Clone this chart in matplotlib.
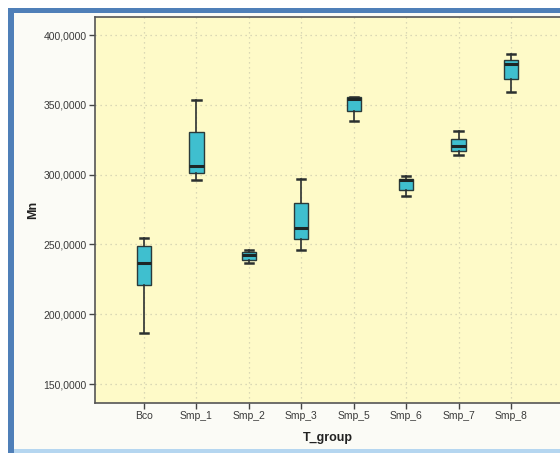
import matplotlib
matplotlib.use("Agg")
import matplotlib.pyplot as plt
from matplotlib.patches import Rectangle
from matplotlib.ticker import FuncFormatter

plt.rcParams["font.family"] = ["Liberation Sans", "DejaVu Sans"]

# Mn by treatment group: five-number summaries
groups = ["Bco", "Smp_1", "Smp_2", "Smp_3", "Smp_5", "Smp_6", "Smp_7", "Smp_8"]
whislo = [186400, 296400, 236400, 245900, 338100, 284500, 314300, 359500]
q1 = [220900, 301200, 238800, 253600, 345700, 289300, 317100, 368600]
med = [236400, 306400, 242400, 261600, 354300, 296000, 320700, 379500]
q3 = [248800, 330200, 244800, 279800, 355500, 297000, 325700, 382100]
whishi = [254800, 353100, 245900, 296900, 355500, 298800, 330900, 386200]
yticks = [150000, 200000, 250000, 300000, 350000, 400000]

W, H = 560, 455
fig = plt.figure(figsize=(W / 100, H / 100), dpi=100)
fig.patch.set_facecolor("white")

# window frame around the chart, drawn in a full-figure background axes (pixel coords)
bg = fig.add_axes([0, 0, 1, 1], zorder=-10)
bg.set_xlim(0, W)
bg.set_ylim(H, 0)
bg.axis("off")

def px_rect(x0, y0, x1, y1, color):
    bg.add_patch(Rectangle((x0, y0), x1 - x0, y1 - y0, facecolor=color, edgecolor="none"))

px_rect(8, 8, W, 453, "#fbfbf6")
px_rect(8, 8, W, 13, "#4f7fb8")
px_rect(8, 8, 14, 453, "#4f7fb8")
px_rect(14, 449, W, 453, "#b5d6f0")

ax = fig.add_axes([95 / W, 1 - 403 / H, (W - 95) / W, (403 - 17) / H], zorder=1)
ax.set_facecolor("#fefac8")

stats = []
for i, g in enumerate(groups):
    stats.append(dict(label=g, whislo=whislo[i], q1=q1[i], med=med[i],
                      q3=q3[i], whishi=whishi[i], fliers=[]))

pos = list(range(len(groups)))
ax.bxp(stats, positions=pos, widths=0.27, patch_artist=True, showfliers=False,
       boxprops=dict(facecolor="#3fbfcf", edgecolor="#2b3a3a", linewidth=1.0),
       medianprops=dict(color="#1e2626", linewidth=2.2),
       whiskerprops=dict(color="#2b3030", linewidth=1.2),
       capprops=dict(color="#2b3030", linewidth=1.8),
       capwidths=0.16, zorder=3)

ax.set_xlim(-0.935, 7.935)
ax.set_ylim(136400, 412900)
ax.set_yticks(yticks)
ax.yaxis.set_major_formatter(FuncFormatter(lambda v, p: f"{int(v / 1000)},0000"))
ax.set_xticks(pos)
ax.set_xticklabels(groups)

ax.grid(True, color="#cfcdb0", linestyle=(0, (1, 3)), linewidth=0.9, zorder=0)
ax.set_axisbelow(True)

for s in ["left", "bottom", "top"]:
    ax.spines[s].set_color("#555555")
    ax.spines[s].set_linewidth(1.2)
ax.spines["right"].set_visible(False)

ax.tick_params(axis="both", direction="out", length=4, width=1, color="#444444",
               labelsize=7.5, labelcolor="#3a3a3a", pad=2)

ax.set_xlabel("T_group", fontsize=9, fontweight="bold", color="#222222", labelpad=8)
ax.set_ylabel("Mn", fontsize=9, fontweight="bold", color="#222222", labelpad=3)

fig.savefig("out.png", dpi=100)
